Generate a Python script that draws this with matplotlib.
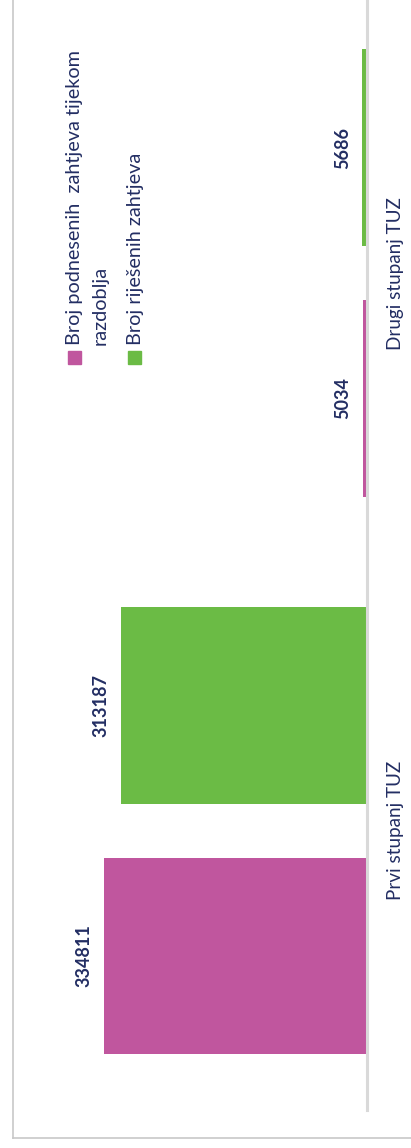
import matplotlib.pyplot as plt
from matplotlib.lines import Line2D
from matplotlib.patches import Rectangle

plt.rcParams['font.family'] = ['Lato', 'DejaVu Sans']

categories = ['Prvi stupanj TUZ', 'Drugi stupanj TUZ']
podneseni = [334811, 5034]
rijeseni = [313187, 5686]
series_names = ['Broj podnesenih  zahtjeva tijekom\nrazdoblja', 'Broj riješenih zahtjeva']
colors = ['#C0569E', '#6BBB45']
text_color = '#232E63'

W, H = 411, 1148
fig = plt.figure(figsize=(W / 100, H / 100), dpi=100)

# chart is laid on its side: bars grow leftwards from the baseline on the right
ax = fig.add_axes([0, 38 / H, 366.5 / W, 1 - 38 / H])
pos = list(range(len(categories)))
off, h = 0.225, 0.353
b1 = ax.barh([p - off for p in pos], podneseni, height=h, color=colors[0])
b2 = ax.barh([p + off for p in pos], rijeseni, height=h, color=colors[1])
ax.set_xlim(467500, 0)
ax.set_ylim(-0.5013, 1.49)

for bars in (b1, b2):
    ax.bar_label(bars, padding=8, rotation=90, fontsize=13, fontweight='bold',
                 color=text_color)

ax.set_yticks(pos, categories, rotation=90, va='center', fontsize=13.6, color=text_color)
ax.yaxis.tick_right()
ax.tick_params(axis='y', length=0, pad=14.5)
ax.set_xticks([])
for side in ('left', 'top', 'bottom'):
    ax.spines[side].set_visible(False)
ax.spines['right'].set_color('#D9D9D9')
ax.spines['right'].set_linewidth(2.2)

# legend, rotated as well
sq = 13
fig.patches.append(Rectangle((68 / W, (H - 364) / H), sq / W, sq / H,
                             transform=fig.transFigure, color=colors[0]))
fig.patches.append(Rectangle((127.5 / W, (H - 364) / H), sq / W, sq / H,
                             transform=fig.transFigure, color=colors[1]))
fig.text(87.5 / W, (H - 345) / H, series_names[0], rotation=90, ha='center', va='bottom',
         fontsize=14.3, color=text_color, linespacing=1.58, multialignment='left')
fig.text(135.5 / W, (H - 345) / H, series_names[1], rotation=90, ha='center', va='bottom',
         fontsize=14.3, color=text_color)

# outer frame
fig.add_artist(Line2D([12.5 / W, 12.5 / W], [(H - 1137.5) / H, 1],
                      transform=fig.transFigure, color='#C8C8C8', lw=1.2))
fig.add_artist(Line2D([12.5 / W, 1], [(H - 1137.5) / H, (H - 1137.5) / H],
                      transform=fig.transFigure, color='#C8C8C8', lw=1.2))

fig.savefig('out.png', dpi=100, facecolor='white')
